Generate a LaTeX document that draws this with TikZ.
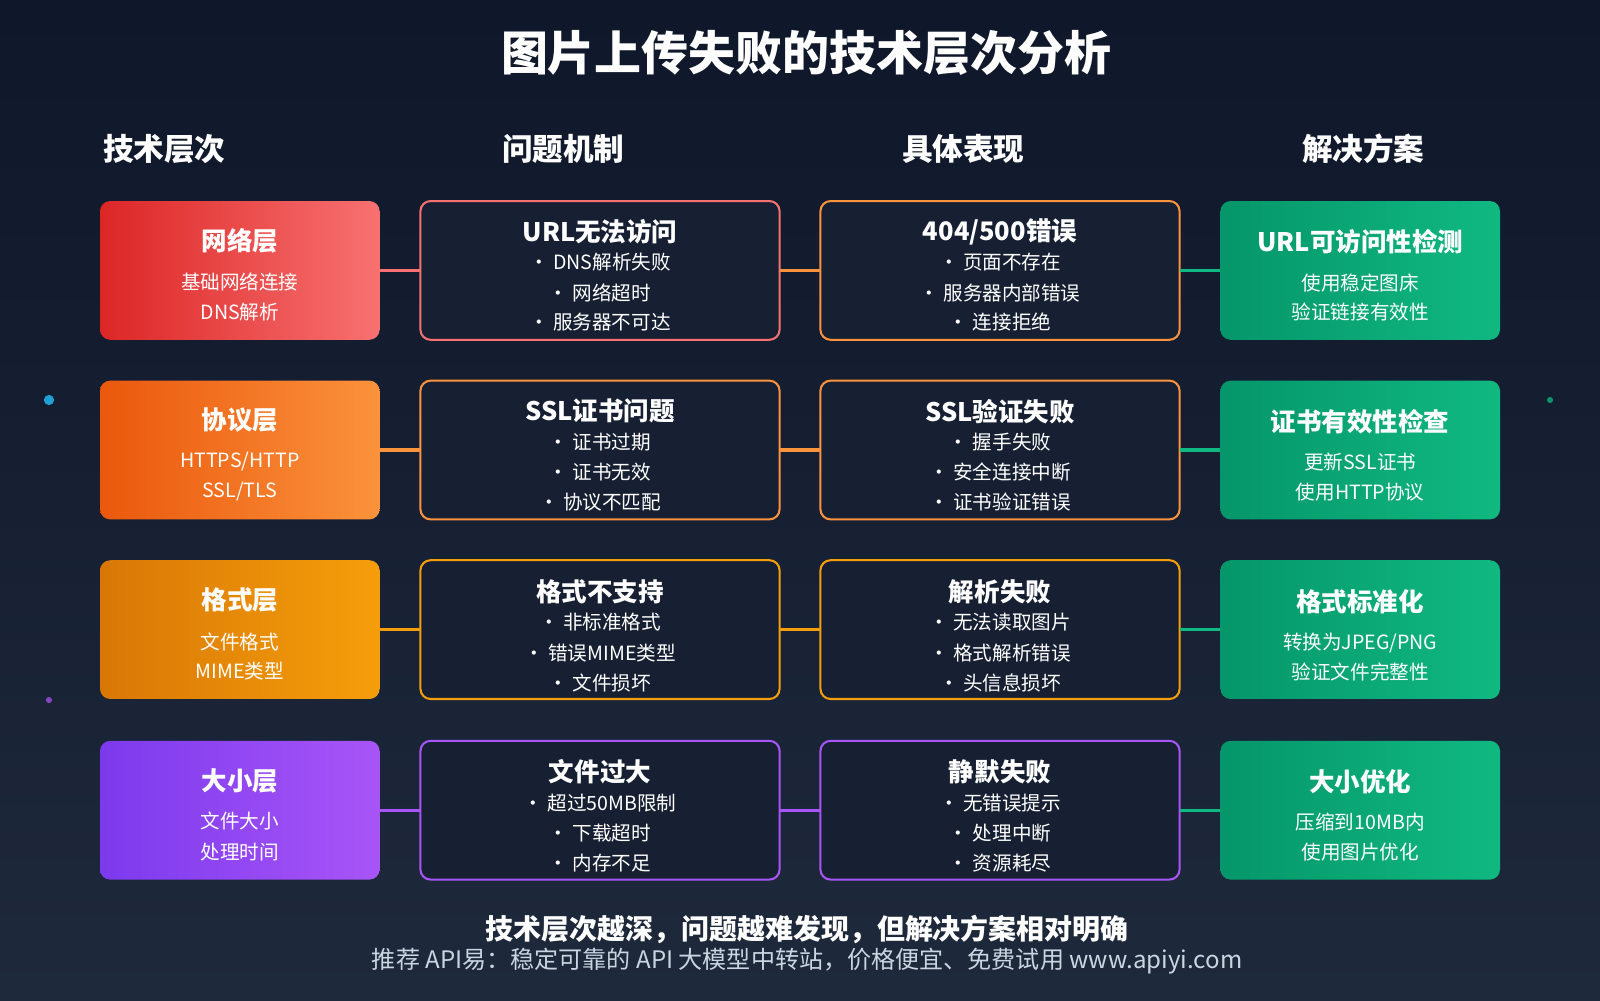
\documentclass[tikz,border=0pt]{standalone}
\usepackage{fontspec}
\setmainfont{Noto Sans CJK SC}
\usetikzlibrary{calc}
\definecolor{bgA}{HTML}{0F172A}\definecolor{bgB}{HTML}{1E293B}
\definecolor{cardbg}{HTML}{172033}
\definecolor{rA}{HTML}{DC2626}\definecolor{rB}{HTML}{F87171}
\definecolor{oA}{HTML}{EA580C}\definecolor{oB}{HTML}{FB923C}
\definecolor{yA}{HTML}{D97706}\definecolor{yB}{HTML}{F59E0B}
\definecolor{pA}{HTML}{7C3AED}\definecolor{pB}{HTML}{A855F7}
\definecolor{gA}{HTML}{059669}\definecolor{gB}{HTML}{10B981}
\definecolor{rline}{HTML}{F87171}\definecolor{oline}{HTML}{FB923C}
\definecolor{yline}{HTML}{F59E0B}\definecolor{pline}{HTML}{A855F7}
\definecolor{subg}{HTML}{CBD5E1}
\begin{document}
\begin{tikzpicture}[x=0.5pt,y=-0.5pt,
 card/.style={rounded corners=5pt,line width=1pt},
 tt/.style={text=white,font=\fontsize{12.5}{14}\selectfont\bfseries},
 ln/.style={text=white,font=\fontsize{9.6}{11}\selectfont},
 hd/.style={text=white,font=\fontsize{15}{17}\selectfont\bfseries},
 conn/.style={line width=1.5pt}]
\shade[top color=bgA,bottom color=bgB] (0,0) rectangle (1568,980);
\useasboundingbox (0,0) rectangle (1568,980);
\node[text=white,font=\fontsize{23}{26}\selectfont\bfseries] (title) at (790,52) {图片上传失败的技术层次分析};
\node[hd,anchor=west] (h1) at (94,146) {技术层次};
\node[hd] (h2) at (552,146) {问题机制};
\node[hd] (h3) at (944,146) {具体表现};
\node[hd] (h4) at (1336,146) {解决方案};
\fill[cyan!70!teal] (48,392) circle (5);
\fill[pline!80!black] (48,686) circle (3);
\fill[gB!80!black] (1519,392) circle (3);
\newcommand\myrow[9]{%
 \shade[card,left color=#2,right color=#3] (98,#1) rectangle (372,#1+136);
 \draw[card,#4,fill=cardbg] (412,#1) rectangle (764,#1+136);
 \draw[card,#5,fill=cardbg] (804,#1) rectangle (1156,#1+136);
 \shade[card,left color=gA,right color=gB] (1196,#1) rectangle (1470,#1+136);
 \coordinate (#6a) at (372,#1+68); \coordinate (#6b) at (412,#1+68);
 \coordinate (#6c) at (764,#1+68); \coordinate (#6d) at (804,#1+68);
 \coordinate (#6e) at (1156,#1+68); \coordinate (#6f) at (1196,#1+68);
 \draw[conn,#4] (#6a) -- (#6b);
 \draw[conn,#5] (#6c) -- (#6d);
 \draw[conn,gB] (#6e) -- (#6f);
 #7 #8 #9}
\myrow{197}{rA}{rB}{rline}{oline}{r1}
{\node[tt] at (235,236){网络层};\node[ln] at (235,276){基础网络连接};\node[ln] at (235,306){DNS解析};}
{\node[tt] at (588,227){URL无法访问};\node[ln] at (588,257){• DNS解析失败};\node[ln] at (588,287){• 网络超时};\node[ln] at (588,316){• 服务器不可达};
 \node[tt] at (980,227){404/500错误};\node[ln] at (980,257){• 页面不存在};\node[ln] at (980,287){• 服务器内部错误};\node[ln] at (980,316){• 连接拒绝};}
{\node[tt] at (1333,237){URL可访问性检测};\node[ln] at (1333,277){使用稳定图床};\node[ln] at (1333,306){验证链接有效性};}
\myrow{373}{oA}{oB}{oline}{oline}{r2}
{\node[tt] at (235,412){协议层};\node[ln] at (235,452){HTTPS/HTTP};\node[ln] at (235,482){SSL/TLS};}
{\node[tt] at (588,403){SSL证书问题};\node[ln] at (588,433){• 证书过期};\node[ln] at (588,463){• 证书无效};\node[ln] at (588,492){• 协议不匹配};
 \node[tt] at (980,403){SSL验证失败};\node[ln] at (980,433){• 握手失败};\node[ln] at (980,463){• 安全连接中断};\node[ln] at (980,492){• 证书验证错误};}
{\node[tt] at (1333,413){证书有效性检查};\node[ln] at (1333,453){更新SSL证书};\node[ln] at (1333,482){使用HTTP协议};}
\myrow{549}{yA}{yB}{yline}{yline}{r3}
{\node[tt] at (235,588){格式层};\node[ln] at (235,629){文件格式};\node[ln] at (235,658){MIME类型};}
{\node[tt] at (588,580){格式不支持};\node[ln] at (588,610){• 非标准格式};\node[ln] at (588,640){• 错误MIME类型};\node[ln] at (588,669){• 文件损坏};
 \node[tt] at (980,580){解析失败};\node[ln] at (980,610){• 无法读取图片};\node[ln] at (980,640){• 格式解析错误};\node[ln] at (980,669){• 头信息损坏};}
{\node[tt] at (1333,590){格式标准化};\node[ln] at (1333,630){转换为JPEG/PNG};\node[ln] at (1333,659){验证文件完整性};}
\myrow{726}{pA}{pB}{pline}{pline}{r4}
{\node[tt] at (235,765){大小层};\node[ln] at (235,805){文件大小};\node[ln] at (235,835){处理时间};}
{\node[tt] at (588,756){文件过大};\node[ln] at (588,787){• 超过50MB限制};\node[ln] at (588,816){• 下载超时};\node[ln] at (588,846){• 内存不足};
 \node[tt] at (980,756){静默失败};\node[ln] at (980,787){• 无错误提示};\node[ln] at (980,816){• 处理中断};\node[ln] at (980,846){• 资源耗尽};}
{\node[tt] at (1333,766){大小优化};\node[ln] at (1333,806){压缩到10MB内};\node[ln] at (1333,835){使用图片优化};}
\node[text=white,font=\fontsize{13.7}{15}\selectfont\bfseries] (f1) at (791,911) {技术层次越深，问题越难发现，但解决方案相对明确};
\node[text=subg,font=\fontsize{11.8}{13}\selectfont] (f2) at (791,942) {推荐 API易：稳定可靠的 API 大模型中转站，价格便宜、免费试用 www.apiyi.com};
\end{tikzpicture}
\end{document}
